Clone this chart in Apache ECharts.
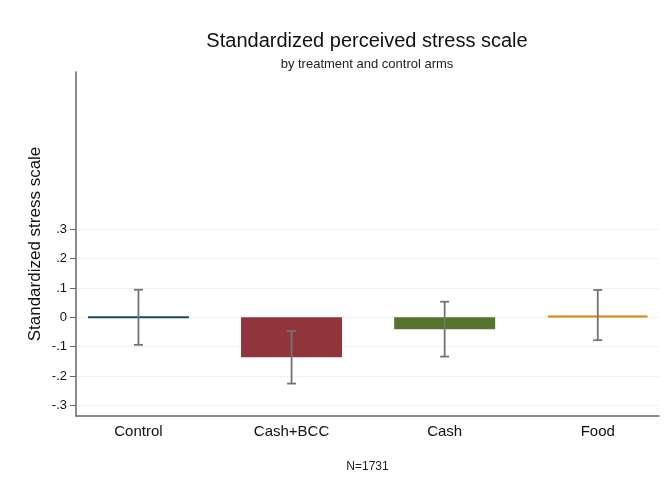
<!DOCTYPE html>
<html>
<head>
<meta charset="utf-8">
<script src="https://cdn.jsdelivr.net/npm/echarts@6/dist/echarts.min.js"></script>
<style>
  html, body { margin: 0; padding: 0; background: #fff; }
  #chart { width: 666px; height: 494px; }
</style>
</head>
<body>
<div id="chart"></div>
<script>
// Treatment arms and their mean standardized stress, with 95% CI bounds
const categories = ['Control', 'Cash+BCC', 'Cash', 'Food'];
const means  = [0.000, -0.136, -0.041, 0.005];
const ciLow  = [-0.094, -0.226, -0.134, -0.078];
const ciHigh = [0.094, -0.047, 0.053, 0.093];
const yTicks = [-0.3, -0.2, -0.1, 0, 0.1, 0.2, 0.3];
const sampleNote = 'N=1731';

const armColors = ['#1a476f', '#90353b', '#55752f', '#e37e00'];
const FONT = '"Liberation Sans", Arial, sans-serif';

function tickText(v) {
  if (Math.abs(v) < 1e-9) return '0';
  const s = v.toFixed(1);
  return s.replace(/^(-?)0\./, '$1.');
}

const chart = echarts.init(document.getElementById('chart'), null, { renderer: 'canvas' });

chart.setOption({
  backgroundColor: '#ffffff',
  animation: false,
  title: {
    text: 'Standardized perceived stress scale',
    subtext: 'by treatment and control arms',
    left: 367, top: 31, textAlign: 'center',
    padding: 0,
    itemGap: 7,
    textStyle: { fontFamily: FONT, fontSize: 20, fontWeight: 'normal', color: '#111' },
    subtextStyle: { fontFamily: FONT, fontSize: 13, color: '#222' }
  },
  grid: { left: 76, right: 7, top: 72, bottom: 78, containLabel: false },
  xAxis: {
    type: 'value',
    min: 0.592, max: 4.4,
    name: sampleNote,
    nameLocation: 'middle',
    nameGap: 45,
    nameTextStyle: { fontFamily: FONT, fontSize: 12, color: '#222' },
    axisLine: { show: true, onZero: false, lineStyle: { color: '#666', width: 1.5 } },
    axisTick: { show: false },
    splitLine: { show: false },
    axisLabel: {
      customValues: [1, 2, 3, 4],
      formatter: v => categories[Math.round(v) - 1],
      fontFamily: FONT, fontSize: 15, color: '#111', margin: 8
    }
  },
  yAxis: {
    type: 'value',
    min: -0.3365, max: 0.836,
    name: 'Standardized stress scale',
    nameLocation: 'middle',
    nameGap: 32,
    nameMoveOverlap: false,
    nameTextStyle: { fontFamily: FONT, fontSize: 17, color: '#111' },
    axisLine: { show: true, lineStyle: { color: '#666', width: 1.5 } },
    axisTick: { show: true, length: 6, customValues: yTicks, lineStyle: { color: '#666', width: 1 } },
    axisLabel: {
      customValues: yTicks,
      formatter: tickText,
      fontFamily: FONT, fontSize: 13, color: '#111', margin: 9
    },
    splitLine: { show: true, lineStyle: { color: '#eef3f4', width: 1 } }
  },
  series: [
    {
      type: 'bar',
      barWidth: 101,
      data: means.map((m, i) => ({
        value: [i + 1, m],
        itemStyle: { color: armColors[i], borderColor: armColors[i], borderWidth: 2 }
      })),
      z: 2
    },
    {
      type: 'custom',
      z: 3,
      data: categories.map((c, i) => [i + 1, ciLow[i], ciHigh[i]]),
      renderItem: function (params, api) {
        const x = api.value(0);
        const lo = api.coord([x, api.value(1)]);
        const hi = api.coord([x, api.value(2)]);
        const cap = 4.5;
        const style = { stroke: '#747474', lineWidth: 1.8 };
        return {
          type: 'group',
          children: [
            { type: 'line', shape: { x1: lo[0], y1: lo[1], x2: hi[0], y2: hi[1] }, style },
            { type: 'line', shape: { x1: lo[0] - cap, y1: lo[1], x2: lo[0] + cap, y2: lo[1] }, style },
            { type: 'line', shape: { x1: hi[0] - cap, y1: hi[1], x2: hi[0] + cap, y2: hi[1] }, style }
          ]
        };
      }
    }
  ]
});
</script>
</body>
</html>
